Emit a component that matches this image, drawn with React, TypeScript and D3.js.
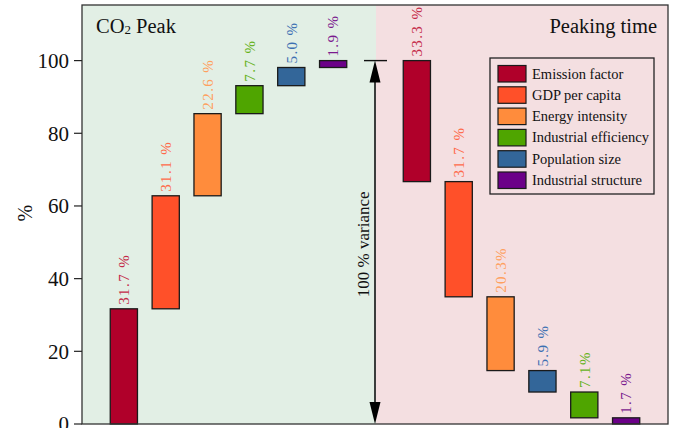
import React from "react";
import * as d3 from "d3";

// Drivers in legend order
const factors = [
  "Emission factor",
  "GDP per capita",
  "Energy intensity",
  "Industrial efficiency",
  "Population size",
  "Industrial structure",
];
const fillColors = ["#b0002a", "#ff5029", "#ff8c3c", "#4fa500", "#336699", "#6b0088"];
const labelColors = ["#c42a48", "#ff6a4a", "#ffa05e", "#66b21c", "#3d70b2", "#7b1a8e"];

// CO2 peak: contributions stacking upwards (factor index, share %)
const peakOrder = [0, 1, 2, 3, 4, 5];
const peakValues = [31.7, 31.1, 22.6, 7.7, 5.0, 1.9];
const peakLabels = ["31.7 %", "31.1 %", "22.6 %", "7.7 %", "5.0 %", "1.9 %"];

// Peaking time: contributions stepping down from 100 %
const timeOrder = [0, 1, 2, 4, 3, 5];
const timeValues = [33.3, 31.7, 20.3, 5.9, 7.1, 1.7];
const timeLabels = ["33.3 %", "31.7 %", "20.3%", "5.9 %", "7.1%", "1.7 %"];

const yTicks = [0, 20, 40, 60, 80, 100];

const W = 675;
const H = 428;
const left = 82;
const right = 668;
const top = 5;
const bottom = 424;

const x = d3.scaleLinear().domain([-1, 13]).range([left, right]);
const y = d3.scaleLinear().domain([0, 115.3]).range([bottom, top]);
const barW = x(0.65) - x(0);
const splitX = x(6) + 1;
const serif = "'Liberation Serif', 'Times New Roman', serif";

type Seg = { pos: number; f: number; lo: number; hi: number; label: string };

function buildSegments(): Seg[] {
  const segs: Seg[] = [];
  let acc = 0;
  peakValues.forEach((v, i) => {
    segs.push({ pos: i, f: peakOrder[i], lo: acc, hi: acc + v, label: peakLabels[i] });
    acc += v;
  });
  let level = 100;
  timeValues.forEach((v, i) => {
    const lo = Math.max(0, level - v);
    segs.push({ pos: 7 + i, f: timeOrder[i], lo, hi: level, label: timeLabels[i] });
    level = lo;
  });
  return segs;
}

export default function App() {
  const segs = buildSegments();
  const ax = x(6);
  const arrowTop = y(100);
  return (
    <svg width={W} height={H} style={{ display: "block", position: "absolute", left: 0, top: 0 }} fontFamily={serif}>
      <rect x={left} y={top} width={splitX - left} height={bottom - top} fill="#e2efe5" />
      <rect x={splitX} y={top} width={right - splitX} height={bottom - top} fill="#f4dfe1" />

      {segs.map((s, i) => {
        const cx = x(s.pos);
        return (
          <g key={i}>
            <rect
              x={cx - barW / 2}
              y={y(s.hi)}
              width={barW}
              height={y(s.lo) - y(s.hi)}
              fill={fillColors[s.f]}
              stroke="#1a1a1a"
              strokeWidth={1.3}
            />
            <text
              transform={`translate(${cx},${y(s.hi) - 4}) rotate(-90)`}
              dy="0.35em"
              fontSize={15}
              letterSpacing={1.4}
              fill={labelColors[s.f]}
            >
              {s.label}
            </text>
          </g>
        );
      })}

      {/* 100 % variance marker */}
      <line x1={ax - 11} x2={ax + 12} y1={arrowTop} y2={arrowTop} stroke="#111" strokeWidth={1.4} />
      <line x1={ax} x2={ax} y1={arrowTop + 10} y2={bottom - 10} stroke="#111" strokeWidth={1.6} />
      <path d={`M${ax},${arrowTop} L${ax - 5.5},${arrowTop + 22} L${ax + 5.5},${arrowTop + 22} Z`} fill="#000" />
      <path d={`M${ax},${bottom} L${ax - 5.5},${bottom - 22} L${ax + 5.5},${bottom - 22} Z`} fill="#000" />
      <text
        transform={`translate(${ax - 6},${y(50) + 2}) rotate(-90)`}
        textAnchor="middle"
        fontSize={17}
        fill="#111"
      >
        100 % variance
      </text>

      {/* frame */}
      <rect x={left} y={top} width={right - left} height={bottom - top} fill="none" stroke="#333" strokeWidth={1.3} />

      {/* y axis */}
      {yTicks.map((t) => (
        <g key={t}>
          <line x1={left - 8} x2={left} y1={y(t)} y2={y(t)} stroke="#222" strokeWidth={1.2} />
          <text x={left - 13} y={y(t)} dy="0.35em" textAnchor="end" fontSize={21} fill="#111">
            {t}
          </text>
        </g>
      ))}
      <text transform={`translate(25,${y(58)}) rotate(-90)`} textAnchor="middle" dy="0.35em" fontSize={20} fill="#111">
        %
      </text>

      {/* panel titles */}
      <text x={96} y={33} fontSize={20.5} fill="#111">
        CO<tspan fontSize={13} dy={1}>2</tspan>
        <tspan dy={-1}> Peak</tspan>
      </text>
      <text x={657} y={33} fontSize={20.5} textAnchor="end" fill="#111">
        Peaking time
      </text>

      {/* legend */}
      <rect x={490} y={58} width={164} height={136} fill="none" stroke="#222" strokeWidth={1.3} />
      {factors.map((name, i) => {
        const cy = 73.5 + i * 21.3;
        return (
          <g key={name}>
            <rect x={498} y={cy - 8} width={28} height={16.5} fill={fillColors[i]} stroke="#1a1a1a" strokeWidth={1.2} />
            <text x={532} y={cy} dy="0.35em" fontSize={14.5} fill="#111">
              {name}
            </text>
          </g>
        );
      })}
    </svg>
  );
}
